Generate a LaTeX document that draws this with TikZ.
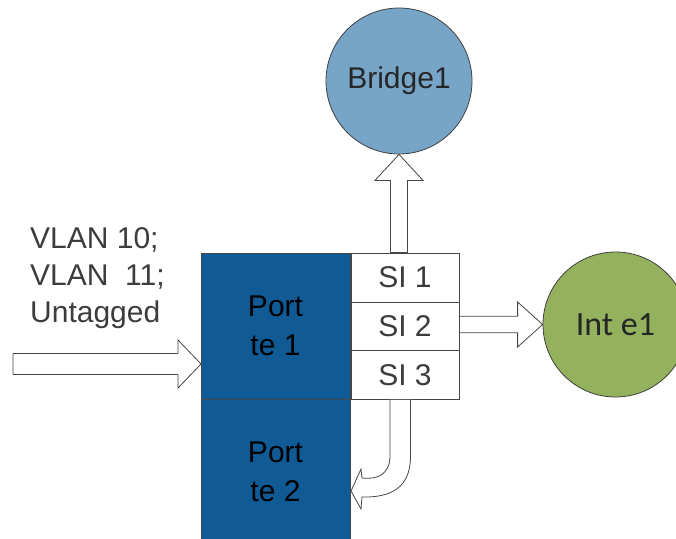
\documentclass[tikz,border=0pt]{standalone}
\usepackage{fontspec}
\setmainfont{Liberation Sans}
\newfontfamily\carl{Carlito}
\usetikzlibrary{calc}
\definecolor{portblue}{RGB}{16,91,150}
\definecolor{bridgeblue}{RGB}{119,165,200}
\definecolor{intgreen}{RGB}{148,178,93}
\definecolor{edgegray}{RGB}{70,70,70}
\definecolor{txtgray}{RGB}{60,60,60}
\tikzset{
  portbox/.style={draw=edgegray, line width=0.8pt, fill=portblue, minimum width=149pt, minimum height=146pt, inner sep=0pt, align=center, font=\fontsize{30}{39}\selectfont, text=black},
  sibox/.style={draw=edgegray, line width=0.8pt, fill=white, minimum width=108pt, minimum height=49pt, inner sep=0pt, font=\fontsize{30}{36}\selectfont, text=txtgray},
  roundnode/.style={circle, draw=black!75, line width=0.8pt, inner sep=0pt},
  barrow/.style={draw=edgegray, line width=0.8pt, fill=white, line join=miter},
  lbl/.style={font=\fontsize{30}{37}\selectfont, text=txtgray, inner sep=0pt, align=left}
}
\begin{document}
\begin{tikzpicture}[x=1pt,y=-1pt]
\useasboundingbox (0,0) rectangle (676,538);
% port boxes
\node[portbox] (p1) at (275.5,326) {\raisebox{6pt}{Port}\\[-6pt]te 1};
\node[portbox] (p2) at (275.5,472) {Port\\te 2};
% SI boxes
\node[sibox] (si1) at (405,277.5) {SI 1};
\node[sibox] (si2) at (405,326.5) {SI 2};
\node[sibox] (si3) at (405,375) {SI 3};
% circles
\node[roundnode, fill=bridgeblue, minimum size=146pt, font=\fontsize{30}{36}\selectfont, text=black!85] (bridge) at (399,81) {Bridge1};
\node[roundnode, fill=intgreen, minimum size=145pt, font=\carl\fontsize{34}{40}\selectfont, text=black!85] (inte) at (615.5,324.5) {Int e1};
% label
\node[lbl, anchor=north west] (vlan) at (30,227) {VLAN 10;\\VLAN\ \ 11;\\Untagged};
% up arrow SI1 -> Bridge1
\coordinate (ub) at (bridge.south |- si1.north);
\draw[barrow] (bridge.south) -- ($(bridge.south)+(24,26)$) -- ($(bridge.south)+(8.5,26)$)
  -- ($(ub)+(8.5,0)$) -- ($(ub)+(-8.5,0)$) -- ($(bridge.south)+(-8.5,26)$)
  -- ($(bridge.south)+(-24,26)$) -- cycle;
% right arrow SI2 -> Int e1
\coordinate (rb) at (si2.east |- inte.west);
\draw[barrow] (inte.west) -- ($(inte.west)+(-25,-22.5)$) -- ($(inte.west)+(-25,-8.3)$)
  -- ($(rb)+(0,-8.3)$) -- ($(rb)+(0,8.3)$) -- ($(inte.west)+(-25,8.3)$)
  -- ($(inte.west)+(-25,22.5)$) -- cycle;
% input arrow -> Port te 1
\coordinate (intip) at (201,364);
\coordinate (intail) at (13,364);
\draw[barrow] (intip) -- ($(intip)+(-23,-24)$) -- ($(intip)+(-23,-10.5)$)
  -- ($(intail)+(0,-10.5)$) -- ($(intail)+(0,10.5)$) -- ($(intip)+(-23,10.5)$)
  -- ($(intip)+(-23,24)$) -- cycle;
% curved arrow SI3 -> Port te 2
\coordinate (cs) at (si3.south);
\coordinate (ctip) at (351,491);
\draw[barrow] ($(cs)+(-15,0)$) -- ($(cs)+(-15,56)$)
  .. controls ($(cs)+(-15,74)$) and ($(cs)+(-27,80)$) .. ($(ctip)+(11,-13)$)
  -- ($(ctip)+(10,-22)$) -- (ctip) -- ($(ctip)+(10,18)$) -- ($(ctip)+(11,6)$)
  .. controls ($(cs)+(-5,98)$) and ($(cs)+(5.5,80)$) .. ($(cs)+(5.5,56)$)
  -- ($(cs)+(5.5,0)$);
\end{tikzpicture}
\end{document}
